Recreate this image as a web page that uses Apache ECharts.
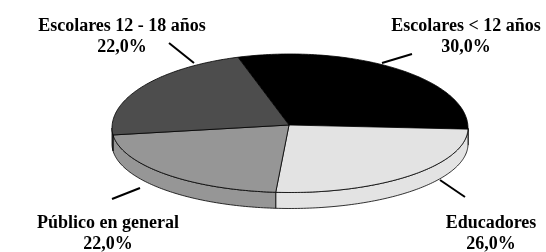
<!DOCTYPE html>
<html>
<head>
<meta charset="utf-8">
<script src="https://cdn.jsdelivr.net/npm/echarts@6/dist/echarts.min.js"></script>
<style>
  html, body { margin: 0; padding: 0; background: #fff; }
  #main { width: 546px; height: 252px; }
</style>
</head>
<body>
<div id="main"></div>
<script>
// datos
var categories = ['Escolares < 12 años', 'Educadores', 'Público en general', 'Escolares 12 - 18 años'];
var values = [30, 26, 22, 22];

// estilo / disposición
var colors = ['#000000', '#e3e3e3', '#969696', '#4d4d4d'];
var labelAt = [[466, 26], [491, 223], [108, 223], [122, 26]];
var leaders = [[[412, 54], [382, 63]], [[440, 180], [465, 197]], [[112, 199], [140, 188]], [[169, 43], [194, 63]]];
var FONT = 'bold 18px "Liberation Serif", "Times New Roman", serif';

var cx = 290, cy = 128, rx = 178, ryTop = 74, ryBot = 64.5, depth = 16;
var apex = [289, 125];
var startAngle = -17;

var total = values.reduce(function (a, b) { return a + b; }, 0);

function pt(deg, dy) {
  var r = deg * Math.PI / 180;
  var c = Math.cos(r);
  return [cx + rx * Math.sin(r), cy - (c >= 0 ? ryTop : ryBot) * c + (dy || 0)];
}
function arc(a0, a1, dy) {
  var pts = [];
  var n = Math.max(2, Math.ceil(Math.abs(a1 - a0)));
  for (var k = 0; k <= n; k++) pts.push(pt(a0 + (a1 - a0) * k / n, dy));
  return pts;
}

var myChart = echarts.init(document.getElementById('main'));

var option = {
  animation: false,
  graphic: [{
    type: 'text', x: 272, y: -5,
    style: { text: 'Destinatarios', font: FONT, fill: '#000', align: 'center', verticalAlign: 'middle' }
  }],
  series: [{
    type: 'custom',
    coordinateSystem: 'none',
    data: values,
    renderItem: function (params, api) {
      var i = params.dataIndex;
      var a0 = startAngle;
      for (var j = 0; j < i; j++) a0 += values[j] / total * 360;
      var a1 = a0 + values[i] / total * 360;
      var children = [];
      // lado visible (mitad delantera)
      var s0 = Math.max(a0, 90), s1 = Math.min(a1, 270);
      if (s1 > s0) {
        var top = arc(s0, s1, 0);
        var bot = arc(s0, s1, depth).reverse();
        children.push({
          type: 'polygon',
          shape: { points: top.concat(bot) },
          style: { fill: colors[i], stroke: '#000', lineWidth: 0.8 }
        });
      }
      // cara superior
      children.push({
        type: 'polygon',
        shape: { points: [apex].concat(arc(a0, a1, 0)) },
        style: { fill: colors[i], stroke: '#000', lineWidth: 0.8 }
      });
      // línea guía y etiqueta
      children.push({
        type: 'line',
        shape: { x1: leaders[i][0][0], y1: leaders[i][0][1], x2: leaders[i][1][0], y2: leaders[i][1][1] },
        style: { stroke: '#000', lineWidth: 2 }
      });
      var pct = (api.value(0) / total * 100).toFixed(1).replace('.', ',') + '%';
      children.push({
        type: 'text', x: labelAt[i][0], y: labelAt[i][1],
        style: { text: categories[i], font: FONT, fill: '#000', align: 'center', verticalAlign: 'middle' }
      });
      children.push({
        type: 'text', x: labelAt[i][0], y: labelAt[i][1] + 21,
        style: { text: pct, font: FONT, fill: '#000', align: 'center', verticalAlign: 'middle' }
      });
      return { type: 'group', children: children };
    }
  }]
};
myChart.setOption(option);
</script>
</body>
</html>
